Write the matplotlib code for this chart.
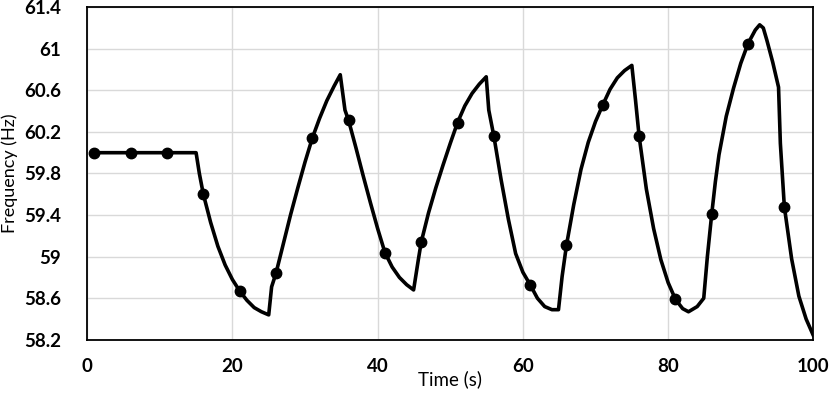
import matplotlib
matplotlib.use("Agg")
import matplotlib.pyplot as plt
from matplotlib.ticker import FuncFormatter

# frequency trace (time s, frequency Hz)
time_s = [1, 15.0, 15.45, 16, 17, 18, 19, 20, 21, 22, 23, 24, 25,
          25.4, 26, 27, 28, 29, 30, 31, 32, 33, 34, 34.85,
          35.5, 36, 37, 38, 39, 40, 41, 42, 43, 44, 44.95,
          45.6, 46, 47, 48, 49, 50, 51, 52, 53, 54, 54.95,
          55.3, 56, 57, 58, 59, 60, 61, 62, 63, 64, 64.9,
          65.4, 66, 67, 68, 69, 70, 71, 72, 73, 74, 75,
          75.5, 76, 77, 78, 79, 80, 81, 82, 82.8, 84, 84.9,
          85.4, 86, 86.5, 87, 88, 89, 90, 91, 92, 92.6, 93.1, 93.6, 94.4, 95.2,
          95.45, 96, 97, 98, 99, 100]
freq_hz = [60.00, 60.00, 59.80, 59.60, 59.33, 59.10, 58.92, 58.78, 58.67, 58.58, 58.51, 58.47, 58.44,
           58.71, 58.84, 59.12, 59.40, 59.66, 59.91, 60.14, 60.33, 60.50, 60.64, 60.75,
           60.41, 60.31, 60.05, 59.78, 59.52, 59.27, 59.04, 58.90, 58.80, 58.73, 58.68,
           58.97, 59.14, 59.42, 59.66, 59.88, 60.09, 60.29, 60.45, 60.57, 60.66, 60.73,
           60.41, 60.16, 59.74, 59.36, 59.03, 58.85, 58.73, 58.60, 58.52, 58.49, 58.49,
           58.81, 59.11, 59.50, 59.84, 60.10, 60.30, 60.46, 60.61, 60.72, 60.79, 60.84,
           60.51, 60.16, 59.65, 59.27, 58.97, 58.75, 58.59, 58.50, 58.47, 58.52, 58.60,
           59.00, 59.41, 59.72, 59.98, 60.35, 60.62, 60.86, 61.05, 61.18, 61.23, 61.20, 61.08, 60.87, 60.63,
           60.09, 59.48, 58.98, 58.62, 58.40, 58.24]

# sampled points shown as markers
marker_t = [1, 6, 11, 16, 21, 26, 31, 36, 41, 46, 51, 56, 61, 66, 71, 76, 81, 86, 91, 96]
marker_f = [60.00, 60.00, 60.00, 59.60, 58.67, 58.84, 60.14, 60.31, 59.04, 59.14,
            60.29, 60.16, 58.73, 59.11, 60.46, 60.16, 58.59, 59.41, 61.05, 59.48]

x_ticks = [0, 20, 40, 60, 80, 100]
y_ticks = [58.2, 58.6, 59.0, 59.4, 59.8, 60.2, 60.6, 61.0, 61.4]

plt.rcParams["font.family"] = ["Lato", "DejaVu Sans"]

fig, ax = plt.subplots(figsize=(8.3, 3.97), dpi=100)
fig.subplots_adjust(left=0.105, right=0.98, top=0.982, bottom=0.144)

ax.plot(time_s, freq_hz, color="black", linewidth=2.6,
        solid_joinstyle="round", solid_capstyle="round", zorder=3)
ax.plot(marker_t, marker_f, linestyle="none", marker="o", markersize=7.5,
        color="black", zorder=4)

ax.set_xlim(0, 100)
ax.set_ylim(58.2, 61.4)
ax.set_xticks(x_ticks)
ax.set_yticks(y_ticks)
ax.yaxis.set_major_formatter(FuncFormatter(lambda v, p: f"{round(v, 1):g}"))
ax.tick_params(length=0, labelsize=13.5)
ax.tick_params(axis="x", pad=13)
ax.tick_params(axis="y", pad=19)
for lab in ax.get_xticklabels() + ax.get_yticklabels():
    lab.set_fontweight("bold")

ax.grid(True, color="#d9d9d9", linewidth=1.0, zorder=0)
ax.set_axisbelow(True)
for sp in ax.spines.values():
    sp.set_color("black")
    sp.set_linewidth(1.3)

ax.set_xlabel("Time (s)", fontsize=13.5, labelpad=-3)
ax.set_ylabel("Frequency (Hz)", fontsize=13, labelpad=4)

fig.savefig("out.png", dpi=100, facecolor="white")
